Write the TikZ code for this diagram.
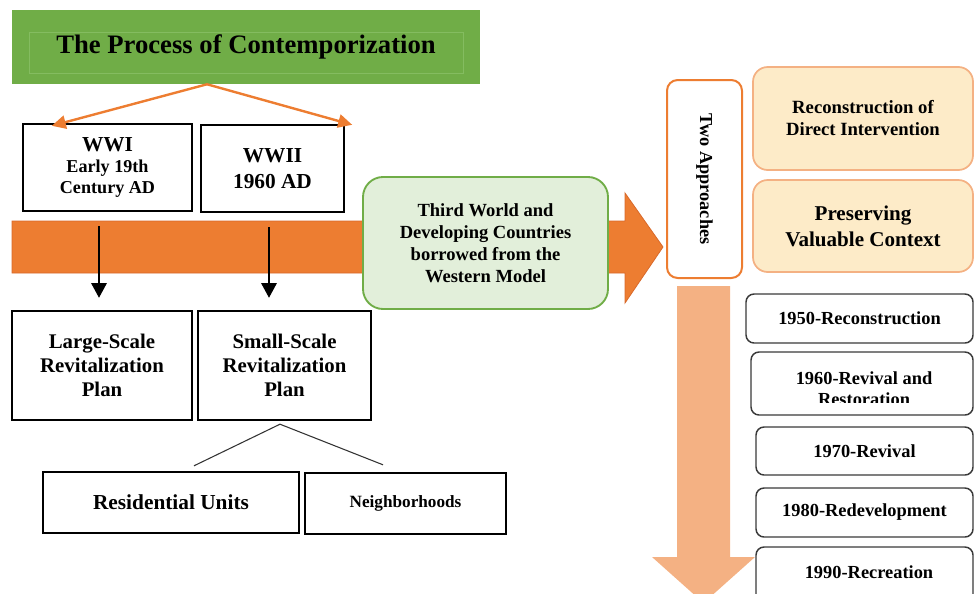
\documentclass[tikz,border=0pt]{standalone}
\usepackage{fontspec}
\setmainfont{Liberation Serif}
\usetikzlibrary{arrows.meta,calc}
\definecolor{leafgreen}{HTML}{70AD47}
\definecolor{leafline}{HTML}{84BC60}
\definecolor{palegreen}{HTML}{E2EFDA}
\definecolor{burntorange}{HTML}{ED7D31}
\definecolor{burntedge}{HTML}{D8692A}
\definecolor{apricot}{HTML}{F4B183}
\definecolor{cream}{HTML}{FDEBC8}
\definecolor{slate}{HTML}{3A3A3A}
\newcommand{\setfs}[2]{\fontsize{#1}{#2}\selectfont\bfseries}

\begin{document}
\begin{tikzpicture}[x=0.75pt,y=-0.75pt,
  px/.style 2 args={minimum width=#1*0.75pt,minimum height=#2*0.75pt},
  base/.style={inner sep=0pt,align=center,text=black},
  plainbox/.style={base,draw=black,line width=1.8pt,fill=white},
  yearbox/.style={base,draw=slate,line width=1.1pt,fill=white,rounded corners=6pt,font=\setfs{13.8}{15}},
  creambox/.style={base,draw=apricot,line width=1.3pt,fill=cream,rounded corners=11pt},
  orangeline/.style={draw=burntorange,line width=1.8pt,-{Triangle[length=10.5pt,width=10pt]}},
  blackline/.style={draw=black,line width=1.5pt,-{Triangle[length=11pt,width=11.5pt]}},
  thinline/.style={draw=black!80,line width=0.8pt},
]
\useasboundingbox (0,0) rectangle (975,593);
\clip (0,0) rectangle (975,593);

% heading bar
\node[base,fill=leafgreen,px={468}{74},font=\setfs{20}{24}] (title) at (246,46.5) {The Process of Contemporization};
\draw[leafline,line width=0.4pt] ($(title.north west)+(18,23)$) rectangle ($(title.south east)+(-17,-11)$);

% wide orange flow arrow
\filldraw[fill=burntorange,draw=burntedge,line width=0.6pt]
  (12,221) -- (625,221) -- (625,193) -- (663,247) -- (625,303) -- (625,273) -- (12,273) -- cycle;

% periods
\node[plainbox,px={169}{87},font=\setfs{13.6}{16}] (wwi) at (107.5,167.5)
  {{\setfs{16}{18}WWI}\\Early 19th\\Century AD};
\node[plainbox,px={143}{87},font=\setfs{16}{20}] (wwii) at (272.5,168.5) {WWII\\1960 AD};

% plans
\node[plainbox,px={180}{109},font=\setfs{15.6}{18}] (large) at (102,365.5) {Large-Scale\\Revitalization\\Plan};
\node[plainbox,px={173}{109},font=\setfs{15.6}{18}] (small) at (284.5,365.5) {Small-Scale\\Revitalization\\Plan};
\node[plainbox,px={256}{61},font=\setfs{16}{18}] (resid) at (171,502.5) {Residential Units};
\node[plainbox,px={201}{61},font=\setfs{12.9}{15}] (neigh) at (405.5,503.5) {Neighborhoods};

% borrowed model
\node[base,draw=leafgreen,line width=1.4pt,fill=palegreen,rounded corners=15pt,px={245}{132},font=\setfs{13.9}{16.5}] (western) at (485.5,243)
  {Third World and\\Developing Countries\\borrowed from the\\Western Model};

% approaches
\node[base,draw=burntorange,line width=1.5pt,fill=white,rounded corners=8pt,rotate=-90,px={198}{75},font=\setfs{13.7}{16}] (twoapp) at (704.5,179) {Two Approaches};
\node[creambox,px={220}{103},font=\setfs{14}{16.5}] (recon) at (863,118.5) {Reconstruction of\\Direct Intervention};
\node[creambox,px={220}{92},font=\setfs{15.8}{19.5}] (preserve) at (863,226) {Preserving\\Valuable Context};

% downward timeline arrow
\fill[apricot] (677,286) -- (730,286) -- (730,557) -- (755,557) -- (703.5,603) -- (652,557) -- (677,557) -- cycle;

% decades
\node[yearbox,px={227}{49}] (y1950) at (859.5,318.5) {1950-Reconstruction};
\node[yearbox,px={222}{63}] (y1960) at (862,383.5) {};
\begin{scope}
  \clip (y1960.north west) rectangle ($(y1960.south east)+(0,-13)$);
  \node[base,font=\setfs{13.8}{16}] (y1960text) at (864,389) {1960-Revival and\\Restoration};
\end{scope}
\node[yearbox,px={217}{48}] (y1970) at (864.5,451) {1970-Revival};
\node[yearbox,px={217}{49}] (y1980) at (864.5,512.5) {1980-Redevelopment};
\node[yearbox,px={217}{63}] (y1990) at (864.5,578.5) {};
\node[base,font=\setfs{13.8}{15}] (y1990text) at (869,572) {1990-Recreation};

% connectors
\coordinate (fork) at ($(title.south)+(-39,0.5)$);
\draw[orangeline] (fork) -- ($(wwi.north west)+(30,3)$);
\draw[orangeline] (fork) -- ($(wwii.north east)+(7,1)$);
\draw[blackline] ($(wwi.south)+(-8.5,14)$) -- ($(large.north)+(-3,-12)$);
\draw[blackline] ($(wwii.south)+(-3.5,14)$) -- ($(small.north)+(-15.5,-12)$);
\coordinate (split) at ($(small.south)+(-4.5,3)$);
\draw[thinline] (split) -- ($(resid.north)+(23,-5)$);
\draw[thinline] (split) -- ($(neigh.north)+(-22.5,-7)$);
\end{tikzpicture}
\end{document}
